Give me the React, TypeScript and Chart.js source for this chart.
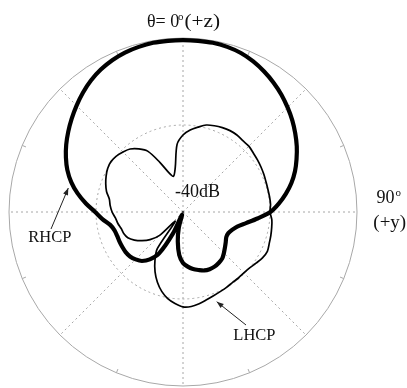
import React, { useEffect, useRef } from "react";
import { Chart, registerables } from "chart.js";

Chart.register(...registerables);

// polar angle theta (degrees, clockwise from +z at the top)
const thetaDeg = [
  "0", "5", "10", "15", "20", "25", "30", "35", "40", "45", "50", "55",
  "60", "65", "70", "75", "80", "85", "90", "95", "100", "105", "110", "115",
  "120", "125", "130", "135", "140", "145", "150", "155", "160", "165", "170", "175",
  "180", "185", "190", "195", "200", "205", "210", "215", "220", "225", "230", "235",
  "240", "245", "250", "255", "260", "265", "270", "275", "280", "285", "290", "295",
  "300", "305", "310", "315", "320", "325", "330", "335", "340", "345", "350", "355",
];

// RHCP gain (dB)
const rhcpDb = [
  -0.5, -0.5, -0.5, -0.7, -1.1, -1.8, -2.7, -3.7, -4.8, -6.0, -7.2, -8.5,
  -9.8, -11.2, -12.6, -14.2, -16.0, -17.9, -19.9, -22.8, -25.3, -27.1, -28.0, -28.5,
  -28.5, -28.0, -27.4, -26.7, -26.0, -25.7, -25.5, -25.5, -25.7, -26.2, -26.7, -27.4,
  -28.3, -30.1, -33.1, -36.3, -39.3, -34.5, -29.0, -26.7, -25.3, -24.6, -24.1, -23.9,
  -23.9, -23.9, -23.9, -23.7, -23.0, -21.4, -19.8, -17.6, -15.4, -13.4, -11.7, -10.3,
  -9.0, -7.8, -6.6, -5.4, -4.2, -3.1, -2.2, -1.5, -1.0, -0.7, -0.5, -0.5,
];

// LHCP gain (dB)
const lhcpDb = [
  -22.3, -21.1, -20.2, -19.3, -18.9, -18.6, -18.4, -18.4, -18.6, -18.6, -18.9, -19.1,
  -19.3, -19.5, -19.7, -19.8, -19.8, -19.8, -20.0, -19.5, -19.3, -19.1, -18.9, -18.6,
  -18.9, -19.5, -20.0, -20.2, -20.2, -20.2, -20.0, -19.8, -19.5, -19.1, -18.6, -18.2,
  -18.2, -18.9, -19.8, -21.1, -22.8, -24.8, -27.1, -29.7, -37.2, -32.4, -30.1, -28.5,
  -27.1, -26.0, -25.5, -25.3, -24.8, -24.4, -23.7, -23.2, -22.8, -21.8, -21.1, -20.5,
  -20.0, -19.8, -20.0, -20.5, -21.1, -22.3, -23.9, -27.4, -30.3, -31.5, -29.7, -24.4,
];

// radial rings (dB)
const ringDb = [-40, -20, 0];

const SERIF = '"Liberation Serif", "Times New Roman", serif';

const decorPlugin = {
  id: "decor",
  beforeDatasetsDraw(chart: any) {
    const s = chart.scales.r;
    const ctx = chart.ctx;
    const cx = s.xCenter;
    const cy = s.yCenter;
    const R = s.drawingArea;
    ctx.save();
    ctx.strokeStyle = "#a8a8a8";
    ctx.lineWidth = 1;
    for (let k = 0; k < 8; k++) {
      const a = ((22.5 + 45 * k - 90) * Math.PI) / 180;
      ctx.beginPath();
      ctx.moveTo(cx + (R - 4) * Math.cos(a), cy + (R - 4) * Math.sin(a));
      ctx.lineTo(cx + R * Math.cos(a), cy + R * Math.sin(a));
      ctx.stroke();
    }
    ctx.fillStyle = "#444";
    ctx.fillRect(cx - 1, cy - 1, 2, 2);
    ctx.restore();
  },
  afterDraw(chart: any) {
    const ctx = chart.ctx;
    ctx.save();
    ctx.fillStyle = "#111";
    ctx.textBaseline = "alphabetic";
    ctx.textAlign = "left";

    // title
    ctx.font = `18px ${SERIF}`;
    ctx.fillText("\u03b8= 0", 147, 27);
    ctx.font = `11px ${SERIF}`;
    ctx.fillText("o", 178, 19.5);
    ctx.save();
    ctx.translate(184.5, 27);
    ctx.scale(1.18, 1);
    ctx.font = `18px ${SERIF}`;
    ctx.fillText("(+z)", 0, 0);
    ctx.restore();

    // center label
    ctx.font = `18px ${SERIF}`;
    ctx.fillText("-40dB", 175, 196.5);

    // 90 deg label
    ctx.font = `18px ${SERIF}`;
    ctx.fillText("90", 376.5, 203.3);
    ctx.font = `11px ${SERIF}`;
    ctx.fillText("o", 395.5, 196);
    ctx.font = `19px ${SERIF}`;
    ctx.fillText("(+y)", 373.3, 228);

    // series labels
    ctx.font = `16.5px ${SERIF}`;
    ctx.fillText("RHCP", 28.3, 241.7);
    ctx.fillText("LHCP", 233.3, 340);

    const arrow = (x1: number, y1: number, x2: number, y2: number) => {
      ctx.strokeStyle = "#222";
      ctx.lineWidth = 1;
      ctx.beginPath();
      ctx.moveTo(x1, y1);
      ctx.lineTo(x2, y2);
      ctx.stroke();
      const a = Math.atan2(y2 - y1, x2 - x1);
      const L = 7;
      const W = 2.6;
      ctx.fillStyle = "#222";
      ctx.beginPath();
      ctx.moveTo(x2, y2);
      ctx.lineTo(x2 - L * Math.cos(a) + W * Math.sin(a), y2 - L * Math.sin(a) - W * Math.cos(a));
      ctx.lineTo(x2 - L * Math.cos(a) - W * Math.sin(a), y2 - L * Math.sin(a) + W * Math.cos(a));
      ctx.closePath();
      ctx.fill();
    };
    arrow(51, 229, 68.3, 188);
    arrow(246, 325, 216.7, 301.7);
    ctx.restore();
  },
};

export default function App() {
  const canvasRef = useRef<HTMLCanvasElement | null>(null);

  useEffect(() => {
    if (!canvasRef.current) return;
    const chart = new Chart(canvasRef.current, {
      type: "radar",
      data: {
        labels: thetaDeg,
        datasets: [
          {
            label: "RHCP",
            data: rhcpDb,
            borderColor: "#000",
            backgroundColor: "rgba(0,0,0,0)",
            borderWidth: 4.2,
            pointRadius: 0,
            pointHoverRadius: 0,
            fill: false,
            tension: 0.3,
          },
          {
            label: "LHCP",
            data: lhcpDb,
            borderColor: "#000",
            backgroundColor: "rgba(0,0,0,0)",
            borderWidth: 1.7,
            pointRadius: 0,
            pointHoverRadius: 0,
            fill: false,
            tension: 0.3,
          },
        ],
      },
      options: {
        responsive: false,
        animation: false,
        devicePixelRatio: 1,
        layout: { padding: { left: 9, top: 38, right: 50, bottom: 2 } },
        plugins: {
          legend: { display: false },
          tooltip: { enabled: false },
        },
        elements: { line: { capBezierPoints: false } },
        scales: {
          r: {
            min: ringDb[0],
            max: ringDb[ringDb.length - 1],
            startAngle: 0,
            ticks: { display: false, stepSize: ringDb[1] - ringDb[0] },
            pointLabels: { display: false },
            grid: {
              circular: true,
              color: (c: any) =>
                c.index === 0 ? "rgba(0,0,0,0)" : c.index === 1 ? "#a6a6a6" : "#a8a8a8",
              lineWidth: (c: any) => (c.index === 0 ? 0 : 1),
            },
            border: {
              dash: (c: any) => (c.index === 1 ? [2, 3] : []),
            },
            angleLines: {
              display: true,
              color: (c: any) => (c.index % 9 === 0 ? "#a6a6a6" : "rgba(0,0,0,0)"),
              lineWidth: (c: any) => (c.index % 9 === 0 ? 1 : 0),
              borderDash: [2, 3],
            },
          },
        },
      },
      plugins: [decorPlugin],
    } as any);
    return () => chart.destroy();
  }, []);

  return (
    <div style={{ position: "absolute", left: 0, top: 0, width: 407, height: 388, background: "#fff" }}>
      <canvas ref={canvasRef} width={407} height={388} style={{ display: "block" }} />
    </div>
  );
}
